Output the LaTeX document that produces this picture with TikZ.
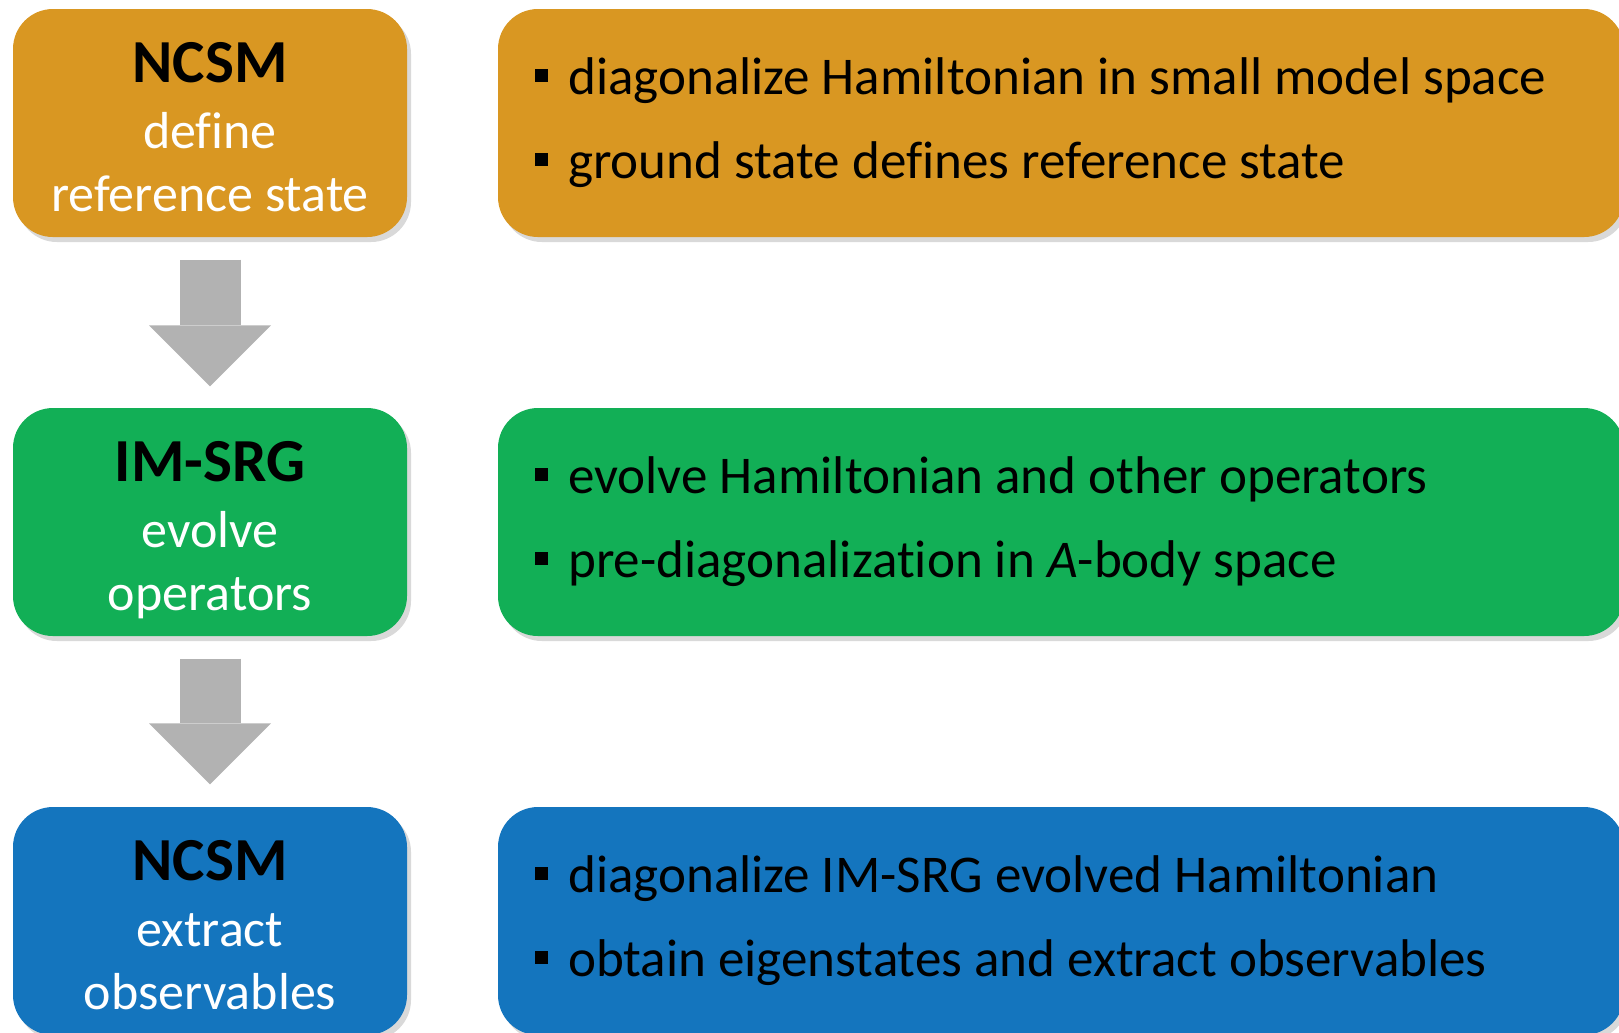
\documentclass[tikz,border=0pt]{standalone}
\usepackage{fontspec}
\setmainfont{Carlito}[Ligatures={NoCommon,NoContextual}]
\usetikzlibrary{shadows,arrows.meta,positioning}

\definecolor{ncsmorange}{RGB}{217,151,34}
\definecolor{srggreen}{RGB}{18,175,86}
\definecolor{obsblue}{RGB}{20,117,190}
\definecolor{arrowgray}{RGB}{178,178,178}

\newcommand{\sqbullet}{\rule[0.23em]{0.25em}{0.25em}\hspace{0.38em}}

\begin{document}
\begin{tikzpicture}[
    stage/.style={rounded corners=0.4cm, minimum width=3.94cm, minimum height=2.28cm,
        drop shadow={shadow xshift=0.04cm, shadow yshift=-0.05cm, opacity=0.3}},
    detail/.style={rounded corners=0.4cm, minimum width=11.26cm, minimum height=2.28cm,
        drop shadow={shadow xshift=0.04cm, shadow yshift=-0.05cm, opacity=0.3}},
    title/.style={anchor=base, font=\fontsize{17.4pt}{20pt}\selectfont\bfseries},
    subtitle/.style={anchor=base, white, font=\fontsize{14.8pt}{18pt}\selectfont},
    point/.style={anchor=base west, inner sep=0pt, font=\fontsize{15.1pt}{18pt}\selectfont},
    flow/.style={arrowgray, line width=0.61cm,
        -{Triangle[length=0.61cm, width=1.22cm, line width=0pt]}}
]
    \useasboundingbox (0,0) rectangle (16.19,-10.32);

    % TOP ROW: NCSM
    \node[stage, fill=ncsmorange] (ncsm1) at (2.10,-1.23) {};
    \node[title] (ncsm1t) at (2.10,-0.82) {NCSM};
    \node[subtitle] (ncsm1a) at (2.10,-1.48) {define};
    \node[subtitle] (ncsm1b) at (2.10,-2.11) {reference state};

    \node[detail, fill=ncsmorange] (ncsm1d) at (10.61,-1.23) {};
    \node[point] (ncsm1p) at (5.34,-0.94) {\sqbullet diagonalize Hamiltonian in small model space};
    \node[point] (ncsm1q) at (5.34,-1.78) {\sqbullet ground state defines reference state};

    % MIDDLE ROW: IM-SRG
    \node[stage, fill=srggreen] (srg) at (2.10,-5.22) {};
    \node[title] (srgt) at (2.10,-4.81) {IM-SRG};
    \node[subtitle] (srga) at (2.10,-5.47) {evolve};
    \node[subtitle] (srgb) at (2.10,-6.10) {operators};

    \node[detail, fill=srggreen] (srgd) at (10.61,-5.22) {};
    \node[point] (srgp) at (5.34,-4.93) {\sqbullet evolve Hamiltonian and other operators};
    \node[point] (srgq) at (5.34,-5.77) {\sqbullet pre-diagonalization in \textit{A}-body space};

    % BOTTOM ROW: NCSM
    \node[stage, fill=obsblue] (ncsm2) at (2.10,-9.21) {};
    \node[title] (ncsm2t) at (2.10,-8.80) {NCSM};
    \node[subtitle] (ncsm2a) at (2.10,-9.46) {extract};
    \node[subtitle] (ncsm2b) at (2.10,-10.09) {observables};

    \node[detail, fill=obsblue] (ncsm2d) at (10.61,-9.21) {};
    \node[point] (ncsm2p) at (5.34,-8.92) {\sqbullet diagonalize IM-SRG evolved Hamiltonian};
    \node[point] (ncsm2q) at (5.34,-9.76) {\sqbullet obtain eigenstates and extract observables};

    % Block arrows
    \draw[flow] ([yshift=-0.22cm]ncsm1.south) -- ([yshift=0.21cm]srg.north);
    \draw[flow] ([yshift=-0.22cm]srg.south) -- ([yshift=0.22cm]ncsm2.north);

\end{tikzpicture}
\end{document}
